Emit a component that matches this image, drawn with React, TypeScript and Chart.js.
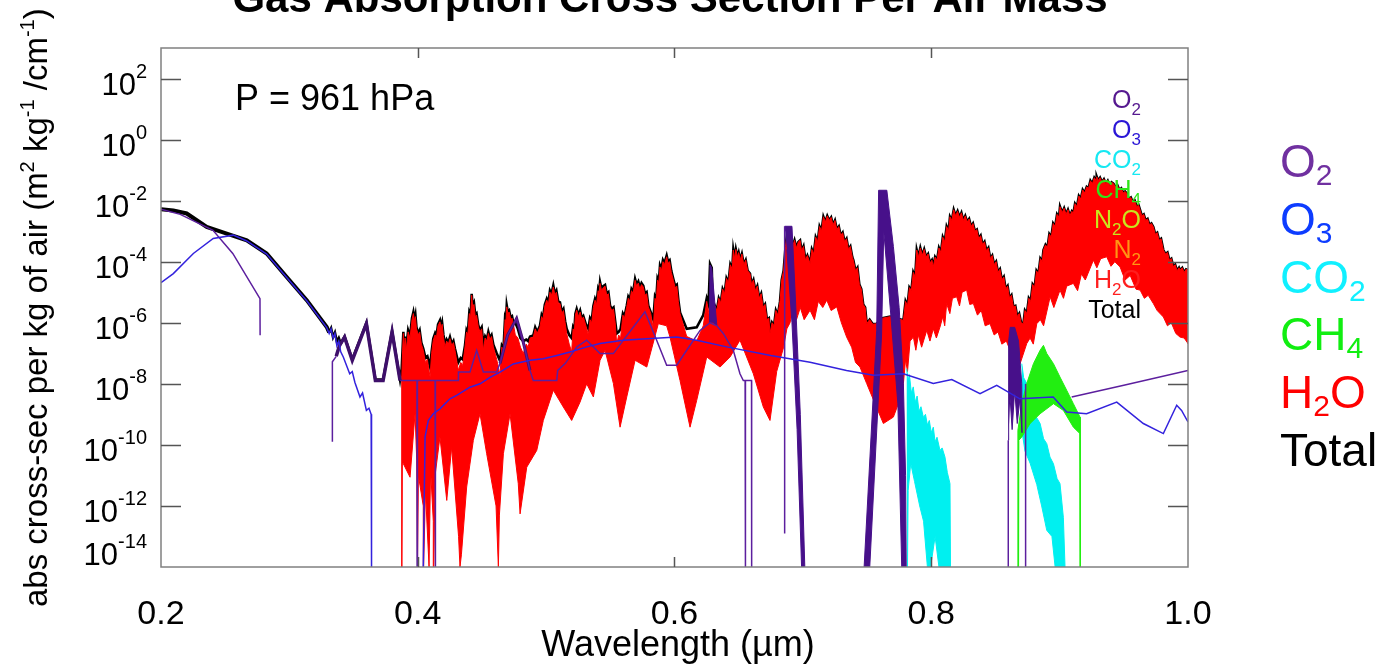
import React, { useEffect, useRef } from 'react';
import { Chart, registerables } from 'chart.js';
Chart.register(...registerables);

type P = [number, number]; // [wavelength µm, log10(cross-section)]

const xTicks = [0.2, 0.4, 0.6, 0.8, 1.0];
const xTickLabels = ['0.2', '0.4', '0.6', '0.8', '1.0'];
const yTickExps = [2, 0, -2, -4, -6, -8, -10, -12, -14];

const totalUv: P[] = [
  [0.2, -2.28], [0.2096, -2.32], [0.22, -2.42], [0.2356, -2.86], [0.2512, -3.08], [0.2668, -3.3], [0.2823, -3.73],
  [0.2979, -4.5], [0.3135, -5.26], [0.3291, -6.14], [0.331, -6.32], [0.3325, -6.18], [0.334, -6.47], [0.3355, -6.32],
  [0.337, -6.62], [0.3385, -6.5], [0.34, -6.68], [0.343, -6.45], [0.349, -7.2], [0.36, -6.0], [0.367, -7.86],
  [0.373, -7.86], [0.38, -6.27],
];
const totalVisA: P[] = [
  [0.3862, -7.86], [0.3875, -7.5], [0.3882, -6.85], [0.3888, -6.3], [0.3895, -6.85], [0.3902, -6.45], [0.391, -6.85],
  [0.3925, -6.25], [0.394, -6.45], [0.3955, -5.85], [0.3966, -5.65], [0.3975, -5.9], [0.3982, -5.75], [0.399, -6.15],
  [0.4005, -6.35], [0.4015, -6.25], [0.4028, -6.65], [0.4043, -6.85], [0.406, -7.15], [0.4075, -7.1], [0.4096, -7.45],
  [0.4108, -6.95], [0.4121, -6.52], [0.4135, -6.35], [0.4145, -6.45], [0.4158, -6.05], [0.4173, -5.92], [0.4182, -6.15],
  [0.419, -6.0], [0.42, -6.4], [0.4212, -6.72], [0.4225, -6.55], [0.4238, -6.65], [0.4251, -6.47], [0.4265, -6.7],
  [0.4278, -6.6], [0.429, -6.85], [0.4316, -7.3], [0.4335, -7.15], [0.435, -7.2], [0.4368, -6.74], [0.438, -6.25],
  [0.439, -6.35], [0.4402, -5.65], [0.4412, -5.75], [0.442, -5.05], [0.4428, -5.45], [0.4438, -5.35], [0.4448, -5.75],
  [0.4458, -5.7], [0.4472, -6.1], [0.4485, -6.25], [0.4498, -6.15], [0.4511, -6.72], [0.4525, -6.45], [0.4538, -6.55],
  [0.455, -6.3], [0.4562, -6.5], [0.4575, -6.4], [0.4589, -6.72], [0.4615, -7.0], [0.4641, -7.25], [0.4655, -6.75],
  [0.4668, -6.85], [0.468, -5.85], [0.4687, -5.95], [0.4693, -5.43], [0.4702, -5.65], [0.4712, -5.6], [0.4725, -5.85],
  [0.4735, -5.8], [0.4744, -5.98], [0.476, -6.0], [0.478, -6.2], [0.48, -6.5], [0.4822, -6.6], [0.4845, -6.55],
  [0.486, -6.6], [0.4875, -6.45], [0.49, -6.42], [0.4915, -6.15], [0.493, -6.3], [0.4952, -6.1], [0.4965, -5.75],
  [0.4975, -5.85], [0.499, -5.4], [0.5005, -5.22], [0.5018, -5.35], [0.503, -4.95], [0.5042, -5.05], [0.5056, -4.78],
  [0.5068, -5.05], [0.508, -4.95], [0.5094, -5.3], [0.5108, -5.33], [0.5122, -5.65], [0.5135, -5.55], [0.5148, -5.95],
  [0.516, -6.2], [0.518, -6.4], [0.5199, -6.5], [0.521, -6.15], [0.522, -6.25], [0.5228, -5.7], [0.5238, -5.55],
  [0.5252, -5.75], [0.5265, -5.6], [0.5278, -5.85], [0.529, -5.78], [0.531, -6.05], [0.5329, -6.2], [0.5342, -5.85],
  [0.5355, -5.95], [0.5368, -5.45], [0.5381, -5.22], [0.5393, -5.35], [0.5405, -4.9], [0.5413, -5.0], [0.542, -4.67],
  [0.5432, -4.9], [0.5445, -4.8], [0.5459, -4.76], [0.5472, -5.05], [0.5485, -5.0], [0.5498, -5.44], [0.5512, -5.55],
  [0.5525, -5.5], [0.5538, -5.95], [0.555, -6.35], [0.5565, -6.3], [0.558, -6.2], [0.5598, -5.7], [0.561, -5.8],
  [0.5628, -5.44], [0.564, -5.15], [0.5652, -5.25], [0.5665, -4.9], [0.5678, -5.0], [0.5693, -4.57], [0.5705, -4.75],
  [0.5718, -4.65], [0.573, -4.85], [0.5743, -4.7], [0.5757, -4.79], [0.577, -5.05], [0.5783, -5.0], [0.5796, -5.44],
  [0.5815, -5.65], [0.5835, -5.9], [0.5848, -5.15], [0.5858, -5.25], [0.5868, -4.55], [0.5878, -4.65], [0.5887, -4.13],
  [0.5898, -4.25], [0.591, -3.95], [0.5922, -4.05], [0.5939, -3.8], [0.595, -4.0], [0.5962, -3.95], [0.5975, -4.3],
  [0.5991, -4.57], [0.6005, -4.8], [0.6018, -4.75], [0.603, -5.25], [0.6043, -5.66], [0.6095, -6.2], [0.6173, -6.15],
  [0.6224, -5.75], [0.6251, -5.2], [0.6265, -5.4], [0.6277, -4.08], [0.629, -4.2],
];

const h2oUpA: P[] = [
  [0.3875, -7.89], [0.3882, -6.9], [0.3888, -6.35], [0.3895, -6.9], [0.3902, -6.5], [0.391, -6.9], [0.3925, -6.3],
  [0.394, -6.5], [0.3955, -5.9], [0.3966, -5.7], [0.3975, -5.95], [0.3982, -5.8], [0.399, -6.2], [0.4005, -6.4],
  [0.4015, -6.3], [0.4028, -6.7], [0.4043, -6.9], [0.406, -7.3], [0.4075, -7.2], [0.4096, -7.78], [0.4108, -7.0],
  [0.4121, -6.57], [0.4135, -6.4], [0.4145, -6.5], [0.4158, -6.1], [0.4173, -5.97], [0.4182, -6.2], [0.419, -6.05],
  [0.42, -6.45], [0.4212, -6.79], [0.4225, -6.6], [0.4238, -6.7], [0.4251, -6.52], [0.4265, -6.75], [0.4278, -6.65],
  [0.429, -6.9], [0.4316, -7.56], [0.4335, -7.3], [0.435, -7.4], [0.4368, -6.79], [0.438, -6.3], [0.439, -6.4],
  [0.4402, -5.7], [0.4412, -5.8], [0.442, -5.1], [0.4428, -5.5], [0.4438, -5.4], [0.4448, -5.8], [0.4458, -5.75],
  [0.4472, -6.14], [0.4485, -6.3], [0.4498, -6.2], [0.4511, -6.9], [0.4525, -6.5], [0.4538, -6.6], [0.455, -6.35],
  [0.4562, -6.55], [0.4575, -6.45], [0.4589, -6.79], [0.4615, -7.2], [0.4641, -7.7], [0.4655, -6.8], [0.4668, -6.9],
  [0.468, -5.9], [0.4687, -6.0], [0.4693, -5.48], [0.4702, -5.7], [0.4712, -5.65], [0.4725, -5.9], [0.4735, -5.85],
  [0.4744, -6.03], [0.476, -6.4], [0.478, -6.5], [0.48, -6.8], [0.4822, -7.01], [0.4845, -6.7], [0.486, -6.8],
  [0.4875, -6.5], [0.49, -6.47], [0.4915, -6.2], [0.493, -6.35], [0.4952, -6.14], [0.4965, -5.8], [0.4975, -5.9],
  [0.499, -5.45], [0.5005, -5.26], [0.5018, -5.4], [0.503, -5.0], [0.5042, -5.1], [0.5056, -4.83], [0.5068, -5.1],
  [0.508, -5.0], [0.5094, -5.35], [0.5108, -5.37], [0.5122, -5.7], [0.5135, -5.6], [0.5148, -6.0], [0.516, -6.35],
  [0.518, -6.7], [0.5199, -6.95], [0.521, -6.2], [0.522, -6.3], [0.5228, -5.75], [0.5238, -5.59], [0.5252, -5.8],
  [0.5265, -5.65], [0.5278, -5.9], [0.529, -5.81], [0.531, -6.1], [0.5329, -6.4], [0.5342, -5.9], [0.5355, -6.0],
  [0.5368, -5.5], [0.5381, -5.26], [0.5393, -5.4], [0.5405, -4.95], [0.5413, -5.05], [0.542, -4.71], [0.5432, -4.95],
  [0.5445, -4.85], [0.5459, -4.8], [0.5472, -5.1], [0.5485, -5.05], [0.5498, -5.48], [0.5512, -5.6], [0.5525, -5.55],
  [0.5538, -6.0], [0.555, -6.7], [0.5565, -6.4], [0.558, -6.5], [0.5598, -5.75], [0.561, -5.85], [0.5628, -5.48],
  [0.564, -5.2], [0.5652, -5.3], [0.5665, -4.95], [0.5678, -5.05], [0.5693, -4.61], [0.5705, -4.8], [0.5718, -4.7],
  [0.573, -4.9], [0.5743, -4.75], [0.5757, -4.83], [0.577, -5.1], [0.5783, -5.05], [0.5796, -5.48], [0.5815, -5.7],
  [0.5835, -6.2], [0.5848, -5.2], [0.5858, -5.3], [0.5868, -4.6], [0.5878, -4.7], [0.5887, -4.17], [0.5898, -4.3],
  [0.591, -4.0], [0.5922, -4.1], [0.5939, -3.84], [0.595, -4.05], [0.5962, -4.0], [0.5975, -4.35], [0.5991, -4.61],
  [0.6005, -4.85], [0.6018, -4.8], [0.603, -5.3], [0.6043, -5.7], [0.6095, -6.45], [0.6173, -6.6], [0.6224, -6.1],
  [0.6251, -5.3], [0.6277, -5.9],
];
const h2oUpB: P[] = [
  [0.63, -5.7], [0.6315, -5.45], [0.633, -5.6], [0.6345, -5.2], [0.636, -5.35], [0.6375, -4.9], [0.639, -5.05],
  [0.6405, -4.55], [0.642, -4.7], [0.6435, -4.1], [0.645, -4.25], [0.6458, -3.62], [0.6468, -3.9], [0.6478, -3.6],
  [0.649, -3.85], [0.65, -3.7], [0.6512, -3.95], [0.6525, -3.75], [0.654, -4.1], [0.6555, -3.95], [0.657, -4.3],
  [0.6588, -4.39], [0.66, -4.75], [0.6615, -4.6], [0.663, -4.95], [0.6645, -4.8], [0.666, -5.2], [0.6675, -5.05],
  [0.669, -5.5], [0.6705, -5.4], [0.672, -5.9], [0.6735, -5.85], [0.6744, -6.35], [0.676, -6.0], [0.6775, -6.1],
  [0.679, -5.6], [0.6805, -5.75], [0.6822, -5.3], [0.6835, -4.6], [0.685, -4.3], [0.6865, -3.5], [0.6874, -3.19],
  [0.689, -3.4], [0.6905, -3.25], [0.692, -3.5], [0.6935, -3.3], [0.695, -3.55], [0.6965, -3.35], [0.6978, -3.3],
  [0.699, -3.65], [0.7005, -3.5], [0.702, -3.95], [0.7035, -3.8], [0.7056, -4.06], [0.707, -3.6], [0.7085, -3.75],
  [0.71, -3.2], [0.7115, -3.35], [0.713, -2.85], [0.7145, -3.0], [0.716, -2.53], [0.7175, -2.7], [0.719, -2.5],
  [0.7205, -2.65], [0.722, -2.55], [0.7235, -2.8], [0.725, -2.65], [0.7265, -2.95], [0.728, -2.85], [0.7295, -3.15],
  [0.731, -3.05], [0.7325, -3.35], [0.734, -3.25], [0.7355, -3.6], [0.737, -3.5], [0.7385, -3.85], [0.7393, -3.95],
  [0.741, -4.3], [0.7425, -4.2], [0.744, -4.75], [0.7455, -4.9], [0.747, -5.4], [0.7485, -5.5], [0.7497, -6.03],
  [0.752, -5.9], [0.7545, -6.05], [0.7575, -6.03],
];
const h2oUpC: P[] = [
  [0.762, -5.85], [0.768, -5.8], [0.7783, -5.92], [0.78, -5.3], [0.7815, -5.45], [0.783, -4.85], [0.7845, -4.95],
  [0.786, -4.35], [0.7875, -4.5], [0.7887, -3.62], [0.79, -3.85], [0.7915, -3.55], [0.793, -3.8], [0.7945, -3.6],
  [0.796, -3.85], [0.7975, -3.75], [0.799, -4.05], [0.8005, -3.95], [0.8016, -4.17], [0.803, -3.85], [0.8045, -3.95],
  [0.806, -3.55], [0.8075, -3.7], [0.809, -3.2], [0.8105, -3.35], [0.812, -2.85], [0.8135, -3.0], [0.8146, -2.53],
  [0.816, -2.65], [0.8175, -2.3], [0.819, -2.5], [0.8205, -2.35], [0.822, -2.55], [0.8235, -2.4], [0.825, -2.65],
  [0.8265, -2.5], [0.828, -2.7], [0.8295, -2.6], [0.831, -2.85], [0.8325, -2.75], [0.834, -3.0], [0.8355, -2.95],
  [0.837, -3.25], [0.8385, -3.15], [0.84, -3.45], [0.8415, -3.35], [0.843, -3.65], [0.8445, -3.55], [0.846, -3.9],
  [0.8475, -3.8], [0.849, -4.1], [0.8505, -4.0], [0.852, -4.35], [0.8535, -4.25], [0.855, -4.6], [0.8565, -4.5],
  [0.858, -4.9], [0.8595, -4.8], [0.861, -5.2], [0.8625, -5.1], [0.864, -5.48], [0.8655, -5.45], [0.867, -5.8],
  [0.8685, -5.7], [0.87, -6.0], [0.8718, -6.03], [0.873, -5.6], [0.8745, -5.7], [0.876, -5.2], [0.8775, -5.3],
  [0.879, -4.75], [0.8805, -4.85], [0.882, -4.3], [0.8835, -4.4], [0.885, -3.9], [0.8865, -4.0], [0.8874, -3.62],
  [0.889, -3.45], [0.8905, -3.55], [0.892, -3.1], [0.8935, -3.2], [0.895, -2.75], [0.8965, -2.85], [0.898, -2.45],
  [0.8995, -2.55], [0.9003, -2.2], [0.902, -2.4], [0.9035, -2.25], [0.905, -2.45], [0.9065, -2.3], [0.908, -2.5],
  [0.9095, -2.35], [0.9107, -2.42], [0.912, -2.1], [0.9135, -2.2], [0.915, -1.85], [0.9165, -1.95], [0.918, -1.65],
  [0.9195, -1.75], [0.9211, -1.55], [0.9225, -1.6], [0.924, -1.35], [0.9255, -1.45], [0.927, -1.25], [0.9285, -1.35],
  [0.9289, -1.22], [0.93, -1.35], [0.9315, -1.25], [0.933, -1.4], [0.9345, -1.3], [0.936, -1.45], [0.9375, -1.35],
  [0.939, -1.5], [0.9405, -1.4], [0.9419, -1.44], [0.9435, -1.55], [0.945, -1.5], [0.9465, -1.65], [0.948, -1.6],
  [0.9495, -1.75], [0.951, -1.7], [0.9523, -1.76], [0.954, -1.95], [0.9555, -1.9], [0.957, -2.05], [0.9585, -2.0],
  [0.96, -2.2], [0.9615, -2.15], [0.9627, -2.31], [0.964, -2.5], [0.9655, -2.45], [0.967, -2.65], [0.9685, -2.6],
  [0.97, -2.8], [0.9715, -2.75], [0.973, -2.86], [0.9745, -3.1], [0.976, -3.05], [0.9775, -3.3], [0.979, -3.25],
  [0.9808, -3.62], [0.9825, -3.75], [0.984, -3.7], [0.9855, -3.95], [0.987, -3.9], [0.9886, -4.17], [0.99, -4.1],
  [0.9915, -4.3], [0.993, -4.2], [0.9938, -4.28], [0.9955, -4.2], [0.997, -4.35], [0.9985, -4.25], [1.0, -4.28],
];

const h2oLower: P[] = [
  [0.3875, -7.89], [0.3877, -14], [0.388, -10.6], [0.3888, -10.62], [0.394, -11.06], [0.3979, -8.97], [0.3992, -10.5],
  [0.3998, -14], [0.4005, -11.0], [0.4043, -12.0], [0.4046, -14], [0.406, -11.5], [0.4088, -14], [0.41, -10.8],
  [0.4121, -12.5], [0.4125, -14], [0.4135, -11.0], [0.4173, -9.74], [0.4226, -11.82], [0.4264, -10.07], [0.4318, -13.0],
  [0.4329, -14], [0.434, -13.6], [0.4381, -11.38], [0.4433, -9.85], [0.4485, -8.98], [0.4537, -10.29], [0.461, -12.0],
  [0.4628, -14], [0.4636, -12.3], [0.4667, -10.29], [0.4719, -8.98], [0.4783, -11.27], [0.4797, -12.26], [0.4849, -10.73],
  [0.4927, -10.18], [0.4978, -9.2], [0.5056, -8.21], [0.5134, -8.76], [0.5199, -9.2], [0.5264, -8.6], [0.5316, -8.0],
  [0.5368, -8.43], [0.542, -7.23], [0.5459, -6.9], [0.5524, -7.99], [0.5576, -9.42], [0.5628, -8.43], [0.5693, -7.23],
  [0.5784, -7.45], [0.5874, -6.03], [0.5939, -6.1], [0.5965, -6.47], [0.6043, -7.89], [0.6121, -9.42], [0.6173, -8.54],
  [0.6251, -7.12], [0.6355, -7.45], [0.6433, -7.12], [0.651, -6.57], [0.6614, -7.67], [0.6692, -8.76], [0.6744, -9.2],
  [0.6796, -7.6], [0.685, -6.8], [0.6875, -6.2], [0.69, -6.0], [0.6925, -5.48], [0.695, -5.9], [0.698, -5.5],
  [0.701, -5.9], [0.7056, -5.59], [0.709, -5.9], [0.712, -5.3], [0.7155, -5.5], [0.7186, -5.26], [0.722, -5.6],
  [0.7264, -5.48], [0.73, -6.0], [0.7341, -6.47], [0.738, -6.8], [0.741, -7.3], [0.7445, -7.45], [0.7497, -7.99],
  [0.7562, -8.65], [0.7627, -9.3], [0.7705, -9.09], [0.7744, -8.65], [0.7783, -7.99], [0.78, -7.2], [0.7815, -7.6],
  [0.7835, -6.6], [0.7861, -6.47], [0.788, -6.9], [0.79, -6.4], [0.7925, -6.8], [0.7965, -6.25], [0.799, -6.6],
  [0.8016, -6.2], [0.804, -6.5], [0.8068, -6.14], [0.809, -5.8], [0.8105, -6.1], [0.812, -5.37], [0.8145, -5.7],
  [0.8165, -5.2], [0.8198, -5.15], [0.822, -5.45], [0.824, -5.0], [0.8276, -4.93], [0.83, -5.4], [0.8328, -5.37],
  [0.836, -5.75], [0.839, -5.6], [0.842, -6.1], [0.8458, -6.03], [0.849, -6.4], [0.852, -6.3], [0.855, -6.7],
  [0.8585, -6.6], [0.8614, -6.9], [0.865, -7.1], [0.8692, -7.34], [0.8744, -6.68], [0.877, -6.5], [0.8795, -6.7],
  [0.8822, -6.03], [0.885, -5.9], [0.8875, -6.1], [0.8926, -5.15], [0.8955, -5.5], [0.9003, -4.93], [0.903, -5.2],
  [0.9055, -4.8], [0.9107, -4.71], [0.914, -4.95], [0.917, -4.4], [0.92, -4.6], [0.9263, -3.95], [0.929, -4.2],
  [0.932, -3.9], [0.9367, -3.84], [0.94, -4.15], [0.943, -4.0], [0.9471, -4.17], [0.951, -4.6], [0.955, -4.45],
  [0.9595, -4.9], [0.9627, -4.93], [0.966, -5.2], [0.969, -5.1], [0.973, -5.37], [0.976, -5.6], [0.9808, -5.81],
  [0.984, -6.1], [0.987, -6.0], [0.9905, -6.35], [0.9938, -6.47], [0.997, -6.5], [1.0, -6.68],
];

const o3Uv: P[] = [
  [0.2, -4.69], [0.2096, -4.39], [0.2252, -3.73], [0.2407, -3.24], [0.2563, -3.13], [0.2668, -3.32], [0.2823, -3.75],
  [0.2979, -4.52], [0.3135, -5.28], [0.3291, -6.16], [0.331, -6.35], [0.3325, -6.2], [0.334, -6.5], [0.3355, -6.35],
  [0.337, -6.75], [0.3385, -6.6], [0.34, -6.95], [0.342, -7.12], [0.347, -7.67], [0.349, -7.6], [0.351, -7.95],
  [0.355, -8.43], [0.357, -8.3], [0.36, -8.87], [0.362, -8.8], [0.3637, -9.0], [0.364, -14],
];
const o3Vis: P[] = [
  [0.4043, -14], [0.4057, -9.74], [0.4082, -9.2], [0.4121, -8.98], [0.4173, -8.82], [0.4251, -8.49], [0.4303, -8.38],
  [0.4407, -8.11], [0.4485, -8.0], [0.4563, -7.79], [0.4641, -7.62], [0.4744, -7.35], [0.4874, -7.23], [0.4978, -7.18],
  [0.5083, -7.07], [0.5186, -6.96], [0.5316, -6.79], [0.542, -6.68], [0.56, -6.57], [0.5784, -6.52], [0.6017, -6.47],
  [0.6173, -6.57], [0.6407, -6.79], [0.675, -7.07], [0.7056, -7.29], [0.734, -7.56], [0.7549, -7.72], [0.7783, -7.67],
  [0.8016, -7.99], [0.816, -7.86], [0.838, -8.32], [0.851, -8.05], [0.869, -8.49], [0.895, -8.43], [0.9055, -8.92],
  [0.921, -8.98], [0.9445, -8.6], [0.9652, -9.3], [0.9808, -9.63], [0.9912, -8.7], [0.995, -8.87], [1.0, -9.25],
];

const o2Uv: P[] = [[0.2, -2.28], [0.215, -2.45], [0.2405, -2.97], [0.2559, -3.73], [0.2771, -5.21], [0.2772, -6.41]];
const o2Herzberg: P[] = [[0.3335, -9.9], [0.3335, -7.28], [0.3365, -7.1]];
const o2UvBands: P[] = [
  [0.3365, -7.1], [0.339, -6.75], [0.343, -6.47], [0.349, -7.23], [0.36, -6.03], [0.367, -7.89], [0.373, -7.89],
  [0.38, -6.3], [0.3862, -7.89],
];
const o2Vis: P[] = [
  [0.3862, -7.89], [0.3994, -7.89], [0.3995, -14], [0.3997, -14], [0.3998, -7.89], [0.4135, -7.89], [0.4136, -14],
  [0.4138, -14], [0.4139, -7.89], [0.4316, -7.89], [0.4317, -7.61], [0.4407, -7.61], [0.4459, -6.9], [0.4511, -7.61],
  [0.4615, -7.61], [0.4641, -7.33], [0.47, -6.4], [0.477, -5.86], [0.482, -6.6], [0.4874, -7.56], [0.49, -7.89],
  [0.5083, -7.89], [0.509, -7.56], [0.515, -7.33], [0.524, -6.79], [0.5316, -6.57], [0.542, -7.01], [0.5524, -7.01],
  [0.5602, -6.57], [0.577, -5.64], [0.5861, -6.57], [0.5939, -7.39], [0.6017, -7.39], [0.6095, -6.9], [0.6199, -6.25],
  [0.6277, -6.0], [0.633, -6.1], [0.638, -6.35], [0.6458, -6.9], [0.651, -7.67], [0.6536, -7.89], [0.655, -7.89],
  [0.6551, -14], [0.6553, -14], [0.6554, -7.89], [0.66, -7.89], [0.6601, -14],
];
const o2Peak477: P[] = [[0.4641, -7.33], [0.47, -6.4], [0.477, -5.86], [0.482, -6.6], [0.4874, -7.56]];
const o2BandHead: P[] = [[0.6858, -12.9], [0.6858, -2.84]];
const o2GammaBand: P[] = [[0.6272, -6.0], [0.6277, -4.11], [0.629, -4.2], [0.633, -6.1], [0.6303, -6.0]];
const o2BBand: P[] = [
  [0.6858, -2.84], [0.6915, -2.84], [0.6945, -5.5], [0.698, -9.0], [0.7015, -14], [0.699, -14], [0.6955, -9.5],
  [0.6915, -6.0], [0.6875, -3.6],
];
const o2ABand: P[] = [
  [0.7477, -14], [0.7575, -6.25], [0.759, -1.66], [0.7654, -1.66], [0.7705, -3.5], [0.775, -5.5], [0.7783, -7.99],
  [0.78, -11.0], [0.7805, -14], [0.777, -14], [0.774, -8.65], [0.769, -6.0], [0.763, -3.0], [0.7613, -6.4],
  [0.7521, -14],
];
const o2Band865: P[] = [
  [0.86, -9.85], [0.8603, -6.6], [0.8615, -6.15], [0.865, -6.15], [0.868, -6.6], [0.8705, -8.0], [0.8707, -9.6],
  [0.869, -8.5], [0.867, -9.3], [0.865, -8.2], [0.863, -9.5], [0.8615, -8.5],
];
const o2Drop860: P[] = [[0.86, -14], [0.86, -9.85]];
const o2Drop873: P[] = [[0.8735, -14], [0.8735, -8.0]];
const o2Tail: P[] = [[0.9094, -8.43], [0.95, -8.05], [1.0, -7.56]];

const co2Band1: P[] = [
  [0.7809, -7.5], [0.782, -7.9], [0.783, -7.7], [0.7845, -8.3], [0.786, -8.1], [0.7875, -8.6], [0.789, -8.4],
  [0.7905, -8.9], [0.792, -8.75], [0.7939, -9.1], [0.7955, -9.0], [0.797, -9.35], [0.7985, -9.2], [0.8, -9.6],
  [0.8016, -9.42], [0.803, -9.9], [0.8045, -9.75], [0.8068, -10.18], [0.8085, -10.1], [0.8107, -10.4],
  [0.8125, -10.9], [0.8146, -11.27], [0.815, -14], [0.806, -14], [0.803, -13.0], [0.7995, -14], [0.797, -14],
  [0.794, -12.5], [0.791, -12.0], [0.787, -11.2], [0.784, -10.6], [0.782, -11.5], [0.7815, -14], [0.781, -14],
];
const co2Band2: P[] = [
  [0.8705, -7.34], [0.872, -7.8], [0.8744, -7.99], [0.877, -8.5], [0.8796, -8.65], [0.882, -9.1], [0.8848, -9.3],
  [0.8875, -9.8], [0.89, -9.96], [0.8925, -10.4], [0.8952, -10.62], [0.898, -11.1], [0.9003, -11.27], [0.9029, -12.37],
  [0.9042, -14], [0.8965, -14], [0.894, -13.0], [0.89, -12.8], [0.886, -12.0], [0.8822, -11.3], [0.877, -10.6],
  [0.873, -10.2], [0.8705, -9.5],
];
const ch4Band: P[] = [
  [0.867, -14], [0.8675, -9.52], [0.8705, -8.65], [0.8744, -7.99], [0.8796, -7.34], [0.8848, -6.9], [0.8874, -6.74],
  [0.89, -7.01], [0.8952, -7.34], [0.9003, -7.78], [0.9055, -8.21], [0.9107, -8.65], [0.9159, -9.09], [0.9162, -14],
  [0.916, -14], [0.9158, -9.63], [0.9107, -9.42], [0.9029, -8.87], [0.8952, -8.65], [0.8848, -8.98], [0.877, -9.3],
  [0.8705, -9.74], [0.8682, -9.85], [0.868, -14],
];

const innerLegend = [
  { base: 'O', sub: '2', tail: '', color: '#55188f' },
  { base: 'O', sub: '3', tail: '', color: '#2a16d6' },
  { base: 'CO', sub: '2', tail: '', color: '#16e8f2' },
  { base: 'CH', sub: '4', tail: '', color: '#2ee61a' },
  { base: 'N', sub: '2', tail: 'O', color: '#c8e61e' },
  { base: 'N', sub: '2', tail: '', color: '#ff9614' },
  { base: 'H', sub: '2', tail: 'O', color: '#ff1e1e' },
  { base: 'Total', sub: '', tail: '', color: '#000000' },
];
const outerLegend = [
  { base: 'O', sub: '2', tail: '', color: '#7030a0' },
  { base: 'O', sub: '3', tail: '', color: '#0d3cff' },
  { base: 'CO', sub: '2', tail: '', color: '#11f0ff' },
  { base: 'CH', sub: '4', tail: '', color: '#11ee11' },
  { base: 'H', sub: '2', tail: 'O', color: '#ff0000' },
  { base: 'Total', sub: '', tail: '', color: '#000000' },
];

const toXY = (a: P[]) => a.map(([x, e]) => ({ x, y: Math.pow(10, e) }));
const FONT = '"Liberation Sans", Arial, Helvetica, sans-serif';

type Run = { t: string; s?: 'sub' | 'sup' };
function drawRuns(
  ctx: CanvasRenderingContext2D, runs: Run[], x: number, y: number, align: 'left' | 'right' | 'center',
  size: number, small: number, subShift: number, supShift: number, color: string, weight = 'normal',
) {
  const fontFor = (r: Run) => `${weight} ${r.s ? small : size}px ${FONT}`;
  let total = 0;
  const widths = runs.map((r) => { ctx.font = fontFor(r); const w = ctx.measureText(r.t).width; total += w; return w; });
  let cx = align === 'left' ? x : align === 'right' ? x - total : x - total / 2;
  ctx.fillStyle = color;
  ctx.textAlign = 'left';
  ctx.textBaseline = 'alphabetic';
  runs.forEach((r, i) => {
    ctx.font = fontFor(r);
    const dy = r.s === 'sub' ? subShift : r.s === 'sup' ? -supShift : 0;
    ctx.fillText(r.t, cx, y + dy);
    cx += widths[i];
  });
}

const decorPlugin = {
  id: 'decor',
  afterDraw(chart: any) {
    const ctx: CanvasRenderingContext2D = chart.ctx;
    const { left, right, top, bottom } = chart.chartArea;
    const xs = chart.scales.x;
    const ys = chart.scales.y;
    ctx.save();
    ctx.strokeStyle = '#808080';
    ctx.lineWidth = 1.5;
    ctx.strokeRect(left, top, right - left, bottom - top);
    ctx.strokeStyle = '#555555';
    ctx.lineWidth = 1.5;
    ctx.beginPath();
    yTickExps.forEach((e) => {
      const py = Math.round(ys.getPixelForValue(Math.pow(10, e))) + 0.5;
      if (py > bottom - 2) return;
      ctx.moveTo(left, py); ctx.lineTo(left + 20, py);
      ctx.moveTo(right, py); ctx.lineTo(right - 20, py);
    });
    xTicks.forEach((v) => {
      const px = Math.round(xs.getPixelForValue(v)) + 0.5;
      if (px < left + 2 || px > right - 2) return;
      ctx.moveTo(px, bottom); ctx.lineTo(px, bottom - 10);
      ctx.moveTo(px, top); ctx.lineTo(px, top + 10);
    });
    ctx.stroke();

    yTickExps.forEach((e) => {
      const py = ys.getPixelForValue(Math.pow(10, e));
      const base = Math.min(py + 16, bottom - 2);
      drawRuns(ctx, [{ t: '10' }, { t: String(e), s: 'sup' }], 147, base, 'right', 31, 20, 0, 17, '#000');
    });
    ctx.font = `34px ${FONT}`;
    ctx.fillStyle = '#000';
    ctx.textAlign = 'center';
    ctx.textBaseline = 'alphabetic';
    xTicks.forEach((v, i) => ctx.fillText(xTickLabels[i], xs.getPixelForValue(v), 624));
    ctx.font = `36px ${FONT}`;
    ctx.fillText('Wavelength (\u00b5m)', 678, 656);
    ctx.font = `bold 42px ${FONT}`;
    ctx.fillText('Gas Absorption Cross Section Per Air Mass', 670, 12);
    ctx.textAlign = 'left';
    ctx.font = `36px ${FONT}`;
    ctx.fillText('P = 961 hPa', 235, 110);

    ctx.save();
    ctx.translate(47, 607);
    ctx.rotate(-Math.PI / 2);
    drawRuns(ctx, [
      { t: 'abs cross-sec per kg of air (m' }, { t: '2', s: 'sup' }, { t: ' kg' }, { t: '-1', s: 'sup' },
      { t: ' /cm' }, { t: '-1', s: 'sup' }, { t: ')' },
    ], 0, 0, 'left', 33, 20, 0, 13, '#000');
    ctx.restore();

    innerLegend.forEach((it, i) => {
      const runs: Run[] = [{ t: it.base }];
      if (it.sub) runs.push({ t: it.sub, s: 'sub' });
      if (it.tail) runs.push({ t: it.tail });
      drawRuns(ctx, runs, 1141, 108 + i * 30, 'right', 25, 17, 7, 0, it.color);
    });
    outerLegend.forEach((it, i) => {
      const runs: Run[] = [{ t: it.base }];
      if (it.sub) runs.push({ t: it.sub, s: 'sub' });
      if (it.tail) runs.push({ t: it.tail });
      drawRuns(ctx, runs, 1280, 177 + i * 57.8, 'left', 46, 30, 8, 0, it.color);
    });
    ctx.restore();
  },
};

const O2_LINE = '#5c1f9e';
const O2_DARK = '#47108a';
const O3_LINE = '#3322dd';

function lineDs(data: P[], color: string, width: number, order: number) {
  return { data: toXY(data), borderColor: color, borderWidth: width, fill: false, order, pointRadius: 0 };
}
function shapeDs(data: P[], color: string, order: number, border = 1) {
  return {
    data: toXY(data), borderColor: color, backgroundColor: color, borderWidth: border, fill: 'shape', order,
    pointRadius: 0,
  };
}

export default function App() {
  const ref = useRef<HTMLCanvasElement | null>(null);
  useEffect(() => {
    if (!ref.current) return;
    const totalPts = [...totalUv, ...totalVisA, ...h2oUpB, ...h2oUpC];
    const h2oUpper = [...h2oUpA, ...h2oUpB, ...h2oUpC];
    const totalDs: any = lineDs(totalPts, '#000000', 2.6, 10);
    totalDs.segment = { borderWidth: (c: any) => (c.p0.parsed.x < 0.33 ? 4 : 2.6) };
    const datasets: any[] = [
      totalDs,
      shapeDs([...h2oUpper, ...h2oLower.slice().reverse()], '#ff0000', 9),
      shapeDs(co2Band1, '#00f0f0', 8),
      shapeDs(co2Band2, '#00f0f0', 8),
      shapeDs(ch4Band, '#22ee11', 7),
      shapeDs(o2GammaBand, O2_DARK, 6),
      shapeDs(o2BBand, O2_DARK, 6),
      shapeDs(o2ABand, O2_DARK, 6),
      shapeDs(o2Band865, O2_DARK, 6),
      lineDs(o2Uv, O2_LINE, 1.5, 5),
      lineDs(o2Herzberg, O2_LINE, 1.5, 5),
      lineDs(o2UvBands, '#3e0f6a', 3.5, 5),
      lineDs(o2Vis, O2_LINE, 1.5, 5),
      lineDs(o2Peak477, '#45106e', 3, 5),
      lineDs(o2BandHead, O2_LINE, 1.5, 5),
      lineDs(o2Drop860, O2_LINE, 1.5, 5),
      lineDs(o2Drop873, O2_LINE, 1.5, 5),
      lineDs(o2Tail, O2_LINE, 1.5, 5),
      lineDs(o3Uv, O3_LINE, 1.5, 4),
      lineDs(o3Vis, O3_LINE, 1.5, 4),
    ];
    const chart = new Chart(ref.current, {
      type: 'line',
      data: { datasets },
      options: {
        responsive: false,
        animation: false,
        devicePixelRatio: 1,
        layout: { padding: { left: 161, right: 193, top: 48, bottom: 100 } },
        elements: { line: { tension: 0 }, point: { radius: 0 } },
        scales: {
          x: { type: 'linear', min: 0.2, max: 1.0, display: false },
          y: { type: 'logarithmic', min: 1e-14, max: 1e3, display: false },
        },
        plugins: { legend: { display: false }, tooltip: { enabled: false } },
      },
      plugins: [decorPlugin],
    } as any);
    return () => chart.destroy();
  }, []);
  return (
    <div style={{ position: 'fixed', left: 0, top: 0, width: 1381, height: 667, background: '#fff' }}>
      <canvas ref={ref} width={1381} height={667} style={{ display: 'block' }} />
    </div>
  );
}
